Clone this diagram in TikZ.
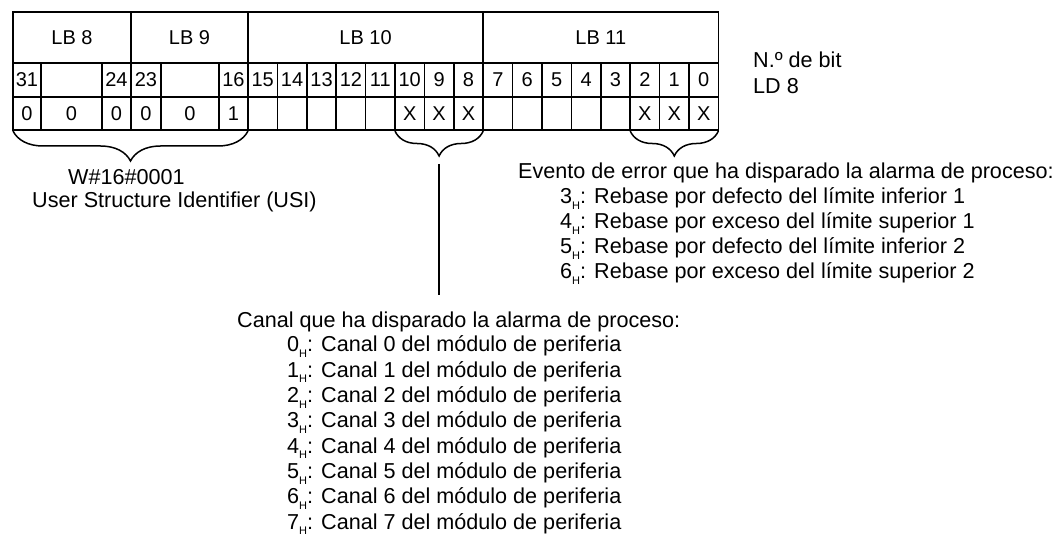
\documentclass[tikz,border=0pt]{standalone}
\usepackage{fontspec}
\setmainfont{Liberation Sans}
\usepackage{tikz}
\usetikzlibrary{decorations.pathreplacing}

\newcommand{\subH}{\raisebox{-5.5pt}{\fontsize{11}{11}\selectfont H}}

\tikzset{
  tabline/.style={line width=1.7pt},
  celltxt/.style={font=\fontsize{20}{20}\selectfont, inner sep=0pt},
  txt/.style={font=\fontsize{21.6}{25}\selectfont, inner sep=0pt, anchor=base west},
  bracedn/.style={decorate, decoration={brace, mirror, amplitude=#1}, line width=1.5pt}
}

\begin{document}
\begin{tikzpicture}[x=1pt,y=-1pt]
\useasboundingbox (0,0) rectangle (1063,537);
% table frame and rows
\draw[tabline] (13,12) rectangle (718.4,130);
\draw[tabline] (13,63) -- (718.4,63);
\draw[tabline] (13,97) -- (718.4,97);
\foreach \x in {131,248,483.2} \draw[tabline] (\x,12) -- (\x,130);
\foreach \x in {41,102,161,219} \draw[tabline] (\x,63) -- (\x,130);
\foreach \k in {1,...,15} \draw[tabline] (248+29.4*\k,63) -- (248+29.4*\k,130);
% byte headers
\node[celltxt] (lb8) at (72,37.5) {LB 8};
\node[celltxt] (lb9) at (189.5,37.5) {LB 9};
\node[celltxt] (lb10) at (365.6,37.5) {LB 10};
\node[celltxt] (lb11) at (600.8,37.5) {LB 11};
% bit numbers
\node[celltxt] (bit31) at (27,80) {31};
\node[celltxt] (bit24) at (116.5,80) {24};
\node[celltxt] (bit23) at (146,80) {23};
\node[celltxt] (bit16) at (233.5,80) {16};
\foreach \k in {0,...,15} {
  \pgfmathtruncatemacro{\b}{15-\k}
  \node[celltxt] (bit\b) at (248+29.4*\k+14.7,80) {\b};
}
% values
\node[celltxt] (val31) at (27,113.5) {0};
\node[celltxt] (val30) at (71.5,113.5) {0};
\node[celltxt] (val24) at (116.5,113.5) {0};
\node[celltxt] (val23) at (146,113.5) {0};
\node[celltxt] (val22) at (190,113.5) {0};
\node[celltxt] (val16) at (233.5,113.5) {1};
\foreach \k in {5,6,7,13,14,15} {
  \pgfmathtruncatemacro{\b}{15-\k}
  \node[celltxt] (val\b) at (248+29.4*\k+14.7,113.5) {X};
}
% braces
\coordinate (usiL) at (13,131);
\coordinate (usiR) at (248,131);
\coordinate (chL) at (395,131);
\coordinate (chR) at (483.2,131);
\coordinate (evL) at (630.2,131);
\coordinate (evR) at (718.4,131);
\draw[bracedn=30] (usiL) -- (usiR);
\draw[bracedn=25] (chL) -- (chR);
\draw[bracedn=25] (evL) -- (evR);
\coordinate (chtip) at (439.1,164);
\coordinate (chend) at (439.1,295);
\draw[line width=1.6pt] (chtip) -- (chend);
% labels
\node[txt] (bitno) at (753,68) {N.º de bit};
\node[txt] (ld) at (753,94) {LD 8};
\node[txt] (usihex) at (68,185) {W\#16\#0001};
\node[txt] (usitxt) at (32,208) {User Structure Identifier (USI)};
\node[txt] (evhead) at (518,179) {Evento de error que ha disparado la alarma de proceso:};
\node[txt] (ev3) at (560,204) {3\subH: Rebase por defecto del límite inferior 1};
\node[txt] (ev4) at (560,229) {4\subH: Rebase por exceso del límite superior 1};
\node[txt] (ev5) at (560,254) {5\subH: Rebase por defecto del límite inferior 2};
\node[txt] (ev6) at (560,279) {6\subH: Rebase por exceso del límite superior 2};
\node[txt] (chhead) at (237,327) {Canal que ha disparado la alarma de proceso:};
\foreach \n in {0,...,7}
  \node[txt] (ch\n) at (287,352+25.3*\n) {\n\subH: Canal \n\ del módulo de periferia};
\end{tikzpicture}
\end{document}
